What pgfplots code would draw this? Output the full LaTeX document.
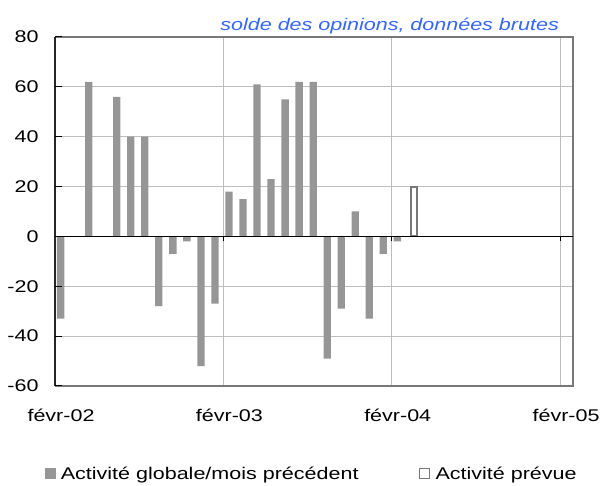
\documentclass[border=0pt]{standalone}
\usepackage{pgfplots}
\pgfplotsset{compat=1.18}
\usepackage{fontspec}
\setmainfont{Liberation Sans}[FakeStretch=1.27]
\definecolor{bargrey}{RGB}{150,150,150}
\definecolor{framegrey}{RGB}{120,120,120}
\definecolor{gridc}{RGB}{190,190,190}
\definecolor{titleblue}{RGB}{51,102,255}
\begin{document}
\begin{tikzpicture}[x=1bp,y=1bp]
\useasboundingbox (0,0) rectangle (602,486);
\begin{axis}[
  at={(55bp,100bp)}, anchor=south west,
  scale only axis, width=518bp, height=349bp,
  xmin=0, xmax=36.92, ymin=-60, ymax=80,
  ytick={-60,-40,...,80},
  xtick={0,12,24,36},
  xticklabels={févr-02,févr-03,févr-04,févr-05},
  xticklabel style={xshift=6bp, yshift=-20bp},
  yticklabel style={xshift=-13bp},
  /pgf/number format/assume math mode=true,
  ticklabel style={font=\fontsize{17}{19}\selectfont},
  ymajorgrids, xmajorgrids,
  grid style={gridc, line width=1.2bp},
  axis line style={draw=none},
  major tick length=0pt,
  clip=false,
  legend columns=2,
  legend style={at={(-0.02,-0.225)}, anchor=north west, draw=none, fill=none,
    font=\fontsize{17}{19}\selectfont,
    /tikz/every even column/.append style={column sep=58bp},
    inner sep=0pt, row sep=0pt},
  legend cell align=left,
]
\addplot[ybar, bar shift=0pt, bar width=7.3bp, fill=bargrey, draw=none,
  legend image code/.code={\fill[bargrey] (0bp,-5bp) rectangle (11bp,6bp); \path (14bp,0);}]
coordinates {
(0.4,-33) (2.4,62) (4.4,56) (5.4,40) (6.4,40) (7.4,-28) (8.4,-7) (9.4,-2)
(10.4,-52) (11.4,-27) (12.4,18) (13.4,15) (14.4,61) (15.4,23) (16.4,55)
(17.4,62) (18.4,62) (19.4,-49) (20.4,-29) (21.4,10) (22.4,-33) (23.4,-7) (24.4,-2)
};
\addlegendentry{Activité globale/mois précédent}
\addplot[ybar, bar shift=0pt, bar width=6.5bp, fill=white, draw=framegrey, line width=2bp,
  legend image code/.code={\draw[framegrey, line width=1bp, fill=white] (0.5bp,-4.5bp) rectangle (10.5bp,5.5bp); \path (14bp,0);}]
coordinates {(25.6,20)};
\addlegendentry{Activité prévue}
% frame, zero line, left axis and ticks
\draw[framegrey, line width=2.4bp] (axis cs:0,-60) -- (axis cs:36.92,-60) -- (axis cs:36.92,80) -- (axis cs:0,80);
\draw[black, line width=1bp] (axis cs:0,0) -- (axis cs:36.92,0);
\draw[black!85, line width=1.8bp] (axis cs:0,-60) -- (axis cs:0,80);
\pgfplotsinvokeforeach{-60,-40,-20,0,20,40,60,80}{\draw[black, line width=1bp] (axis cs:0,#1) -- ([xshift=7bp]axis cs:0,#1);}
\pgfplotsinvokeforeach{12,24,36}{\draw[black, line width=1bp] (axis cs:#1,0) -- ([yshift=-5bp]axis cs:#1,0);}
\node[anchor=base east, font=\fontsize{17}{19}\selectfont\itshape, text=titleblue, inner sep=0pt]
  at (rel axis cs:0.973,1) [yshift=6bp] {solde des opinions, données brutes};
\end{axis}
\end{tikzpicture}
\end{document}
